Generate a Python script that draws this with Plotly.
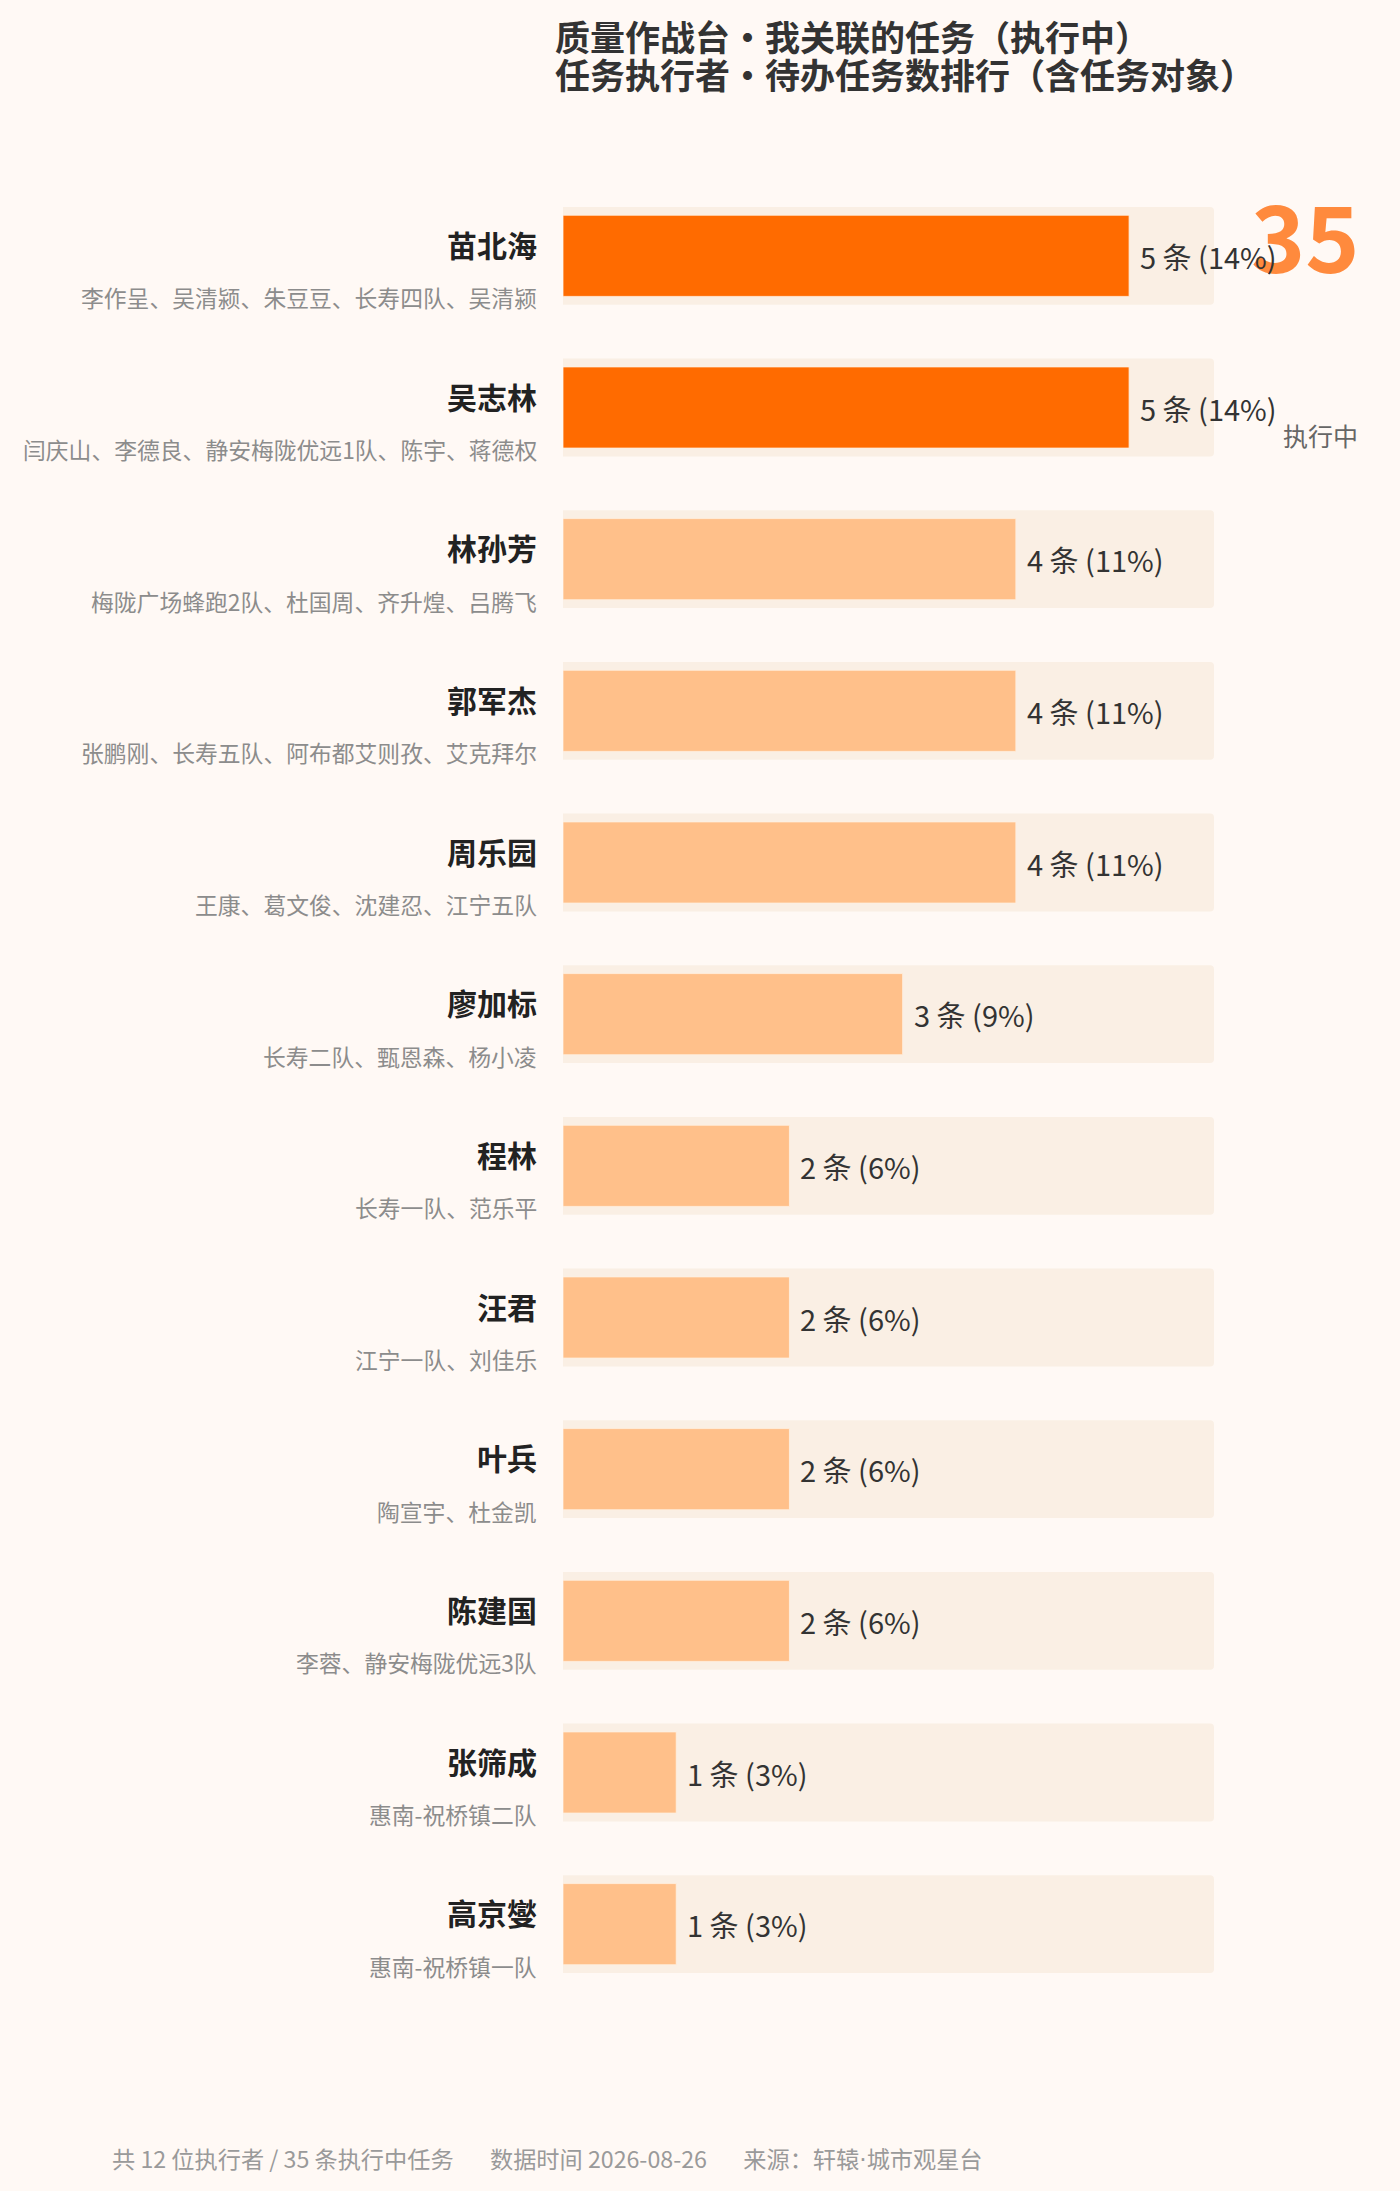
import plotly.graph_objects as go

names = ["苗北海", "吴志林", "林孙芳", "郭军杰", "周乐园", "廖加标",
         "程林", "汪君", "叶兵", "陈建国", "张筛成", "高京燮"]
sub_labels = [
    "李作呈、吴清颍、朱豆豆、长寿四队、吴清颍",
    "闫庆山、李德良、静安梅陇优远1队、陈宇、蒋德权",
    "梅陇广场蜂跑2队、杜国周、齐升煌、吕腾飞",
    "张鹏刚、长寿五队、阿布都艾则孜、艾克拜尔",
    "王康、葛文俊、沈建忍、江宁五队",
    "长寿二队、甄恩森、杨小凌",
    "长寿一队、范乐平",
    "江宁一队、刘佳乐",
    "陶宣宇、杜金凯",
    "李蓉、静安梅陇优远3队",
    "惠南-祝桥镇二队",
    "惠南-祝桥镇一队",
]
counts = [5, 5, 4, 4, 4, 3, 2, 2, 2, 2, 1, 1]
total = 35
title_lines = ["质量作战台・我关联的任务（执行中）", "任务执行者・待办任务数排行（含任务对象）"]
status_label = "执行中"
GAP = "\u00a0" * 7
footer = ("共 12 位执行者 / 35 条执行中任务" + GAP + "数据时间 2026-08-26" + GAP +
          "来源：轩辕<span style=\"font-family:DejaVu Sans\">·</span>城市观星台")

FONT = "Noto Sans CJK SC, Noto Sans, sans-serif"
BG = "#FFF9F5"
TRACK = "#FAEFE4"
HOT = "#FF6B00"
WARM = "#FFC08A"

W, H = 1400, 2191
ML, MR, MT, MB = 563, 186, 180, 191

max_c = max(counts)
track_max = max_c * 1.15
colors = [HOT if c == max_c else WARM for c in counts]

fig = go.Figure()
fig.add_trace(go.Bar(
    y=names, x=[track_max] * len(names), orientation="h",
    marker=dict(color=TRACK, line=dict(width=0), cornerradius=4),
    width=0.645, hoverinfo="skip", showlegend=False,
))
fig.add_trace(go.Bar(
    y=names, x=counts, orientation="h",
    marker=dict(color=colors, line=dict(width=1, color="rgba(255,240,225,0.8)"), cornerradius=4),
    width=0.535, showlegend=False,
))

ann = []
# big total number (drawn first so value labels sit on top)
ann.append(dict(text=f"<b>{total}</b>", xref="paper", yref="paper",
                x=1, y=1, xanchor="right", yanchor="middle",
                xshift=148, yshift=(MT - 232),
                showarrow=False, font=dict(family=FONT, size=92, color="#FF8A3D")))
ann.append(dict(text=status_label, xref="paper", yref="paper",
                x=1, y=1, xanchor="right", yanchor="middle",
                xshift=146, yshift=(MT - 435),
                showarrow=False, font=dict(family=FONT, size=25, color="#666666")))

for n, s, c in zip(names, sub_labels, counts):
    ann.append(dict(text=f"<b>{n}</b>", xref="paper", yref="y", x=0, y=n,
                    xanchor="right", yanchor="middle", xshift=-24, yshift=12,
                    showarrow=False, font=dict(family=FONT, size=30, color="#222222")))
    ann.append(dict(text=s, xref="paper", yref="y", x=0, y=n,
                    xanchor="right", yanchor="middle", xshift=-24, yshift=-42,
                    showarrow=False, font=dict(family=FONT, size=22.8, color="#8C8C8C")))
    pct = round(c / total * 100)
    ann.append(dict(text=f"{c} 条 ({pct}%)", xref="x", yref="y", x=c, y=n,
                    xanchor="left", yanchor="middle", xshift=9, yshift=0,
                    showarrow=False, font=dict(family=FONT, size=29, color="#333333")))

# title lines
for i, (line, yc) in enumerate(zip(title_lines, [35, 73])):
    ann.append(dict(text="<b>" + line + "</b>",
                    xref="paper", yref="paper", x=0, y=1, xanchor="left", yanchor="middle",
                    align="left", xshift=-10, yshift=MT - yc,
                    showarrow=False, font=dict(family=FONT, size=35, color="#333333")))
# footer
ann.append(dict(text=footer, xref="paper", yref="paper",
                x=0, y=0, xanchor="left", yanchor="middle", xshift=110 - ML, yshift=-(2158 - (H - MB)),
                showarrow=False, font=dict(family=FONT, size=23.2, color="#9A9A9A")))

fig.update_layout(
    width=W, height=H,
    margin=dict(l=ML, r=MR, t=MT, b=MB, pad=0),
    paper_bgcolor=BG, plot_bgcolor=BG,
    barmode="overlay",
    xaxis=dict(range=[0, track_max], visible=False, fixedrange=True),
    yaxis=dict(categoryorder="array", categoryarray=names,
               range=[len(names) - 0.5, -0.5], visible=False),
    annotations=ann,
    font=dict(family=FONT),
)

fig.write_html("out.html", config={"displayModeBar": False},
               post_script="document.body.style.margin='0';document.body.style.background='%s';" % BG)
